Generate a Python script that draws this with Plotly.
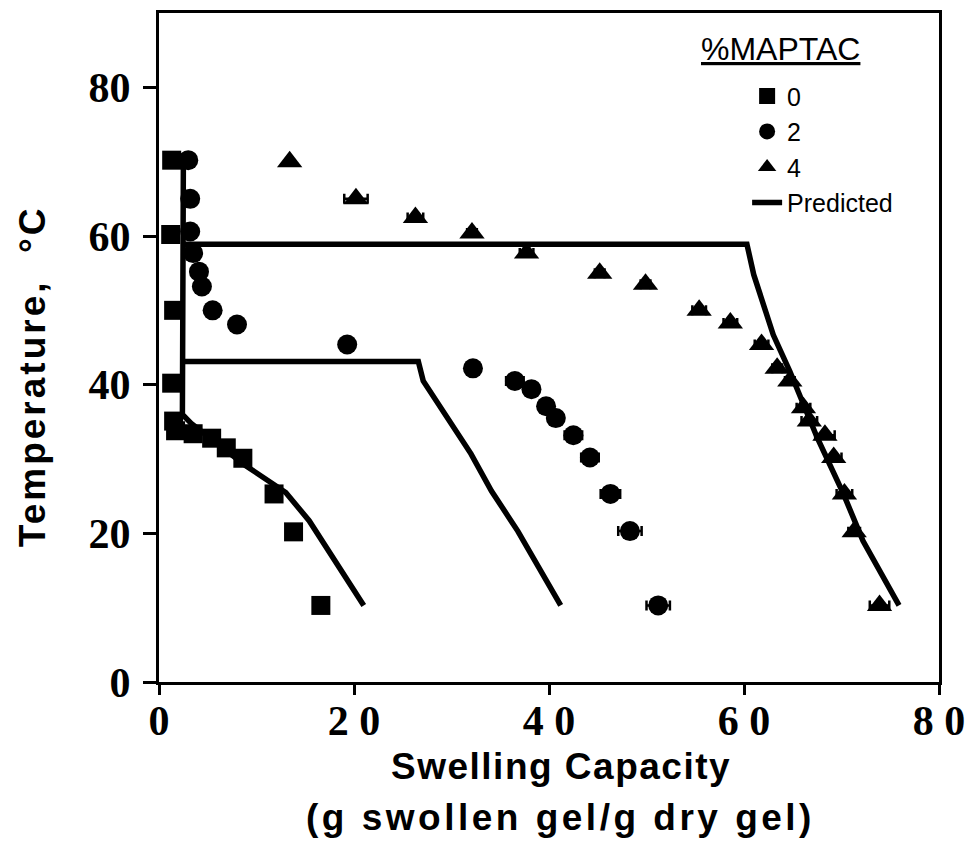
import plotly.graph_objects as go

# ---- data ----
sq_x = [1.3, 1.2, 1.5, 1.3, 1.5, 1.7, 3.5, 5.4, 6.9, 8.6, 11.8, 13.8, 16.6]
sq_y = [70.2, 60.2, 50.0, 40.2, 35.1, 33.8, 33.4, 32.8, 31.5, 30.1, 25.3, 20.2, 10.3]

ci_x = [3.0, 3.2, 3.2, 3.5, 4.1, 4.4, 5.5, 8.0, 19.3, 32.2, 36.5, 38.2, 39.7, 40.7, 42.5, 44.2, 46.3, 48.3, 51.2]
ci_y = [70.2, 65.0, 60.6, 57.7, 55.2, 53.2, 50.0, 48.1, 45.4, 42.2, 40.5, 39.4, 37.1, 35.5, 33.2, 30.2, 25.3, 20.3, 10.3]
ci_err = [0, 0, 0, 0, 0, 0, 0, 0, 0.4, 0.7, 0.9, 0.7, 0.6, 0.6, 0.9, 0.9, 1.0, 1.2, 1.2]

tr_x = [13.4, 20.2, 26.3, 32.1, 37.7, 45.2, 49.9, 55.4, 58.6, 61.8, 63.4, 64.7, 66.1, 66.7, 68.3, 69.2, 70.3, 71.3, 73.9]
tr_y = [70.0, 65.0, 62.5, 60.4, 57.7, 55.0, 53.5, 50.0, 48.3, 45.4, 42.2, 40.5, 36.9, 35.1, 33.2, 30.2, 25.3, 20.2, 10.3]
tr_err = [0.3, 1.2, 0.8, 0.5, 0.7, 0.5, 0.5, 0.7, 0.7, 0.7, 0.5, 0.5, 0.7, 0.8, 1.0, 0.8, 0.8, 0.6, 1.0]

pred0_x = [2.5, 2.4, 3.3, 5.5, 8.9, 13.0, 15.4, 21.0]
pred0_y = [70.2, 36.0, 34.8, 32.5, 29.1, 25.5, 21.7, 10.3]
pred2_x = [2.4, 26.6, 27.1, 32.0, 34.1, 36.8, 41.2]
pred2_y = [43.1, 43.1, 40.5, 30.7, 25.7, 20.3, 10.3]
pred4_x = [2.5, 60.3, 61.0, 63.0, 64.7, 67.5, 70.2, 72.2, 75.9]
pred4_y = [58.9, 58.9, 54.8, 46.7, 41.8, 32.9, 25.3, 19.0, 10.3]

x_ticks = [0, 20, 40, 60, 80]
x_ticktext = ["0", "2 0", "4 0", "6 0", "8 0"]
y_ticks = [0, 20, 40, 60, 80]

# ---- figure ----
pred_x = pred0_x + [None] + pred2_x + [None] + pred4_x
pred_y = pred0_y + [None] + pred2_y + [None] + pred4_y

fig = go.Figure()
fig.add_trace(go.Scatter(x=pred_x, y=pred_y, mode="lines", name="Predicted",
                         line=dict(color="black", width=5.5), legendrank=4))
fig.add_trace(go.Scatter(x=sq_x, y=sq_y, mode="markers", name="0", legendrank=1,
                         marker=dict(symbol="square", size=19, color="black")))
fig.add_trace(go.Scatter(x=ci_x, y=ci_y, mode="markers", name="2", legendrank=2,
                         marker=dict(symbol="circle", size=20, color="black"),
                         error_x=dict(type="data", array=ci_err, color="black", thickness=2.5, width=5)))
fig.add_trace(go.Scatter(x=tr_x, y=tr_y, mode="markers", name="4", legendrank=3,
                         marker=dict(symbol="triangle-up", size=22, color="black"),
                         error_x=dict(type="data", array=tr_err, color="black", thickness=2.5, width=5)))

tick_font = dict(family="Liberation Serif, Times New Roman, serif", size=42, color="black", weight="bold")
title_font = dict(family="Liberation Sans, Arial, sans-serif", size=37, color="black")

fig.update_xaxes(range=[0, 80], tickvals=x_ticks, ticktext=x_ticktext, tickfont=tick_font,
                 showline=True, linewidth=3, linecolor="black", mirror=True,
                 ticks="outside", ticklen=10, tickwidth=2.5, tickcolor="black",
                 showgrid=False, zeroline=False, ticklabelstandoff=-10)
fig.update_yaxes(range=[0, 90], tickvals=y_ticks, tickfont=tick_font,
                 showline=True, linewidth=3, linecolor="black", mirror=True,
                 ticks="outside", ticklen=13, tickwidth=2.5, tickcolor="black",
                 showgrid=False, zeroline=False, ticklabelstandoff=4)

fig.update_layout(
    width=975, height=854,
    margin=dict(l=159, r=32, t=10, b=172),
    paper_bgcolor="white", plot_bgcolor="white",
    font=dict(family="Liberation Sans, Arial, sans-serif", color="black"),
    legend=dict(x=0.754, y=0.91, xanchor="left", yanchor="top",
                font=dict(family="Liberation Sans, Arial, sans-serif", size=25, color="black"),
                bgcolor="rgba(0,0,0,0)", tracegroupgap=0),
    annotations=[
        dict(text="<u>%MAPTAC</u>", xref="paper", yref="paper", x=0.797, y=0.946,
             xanchor="center", yanchor="middle", showarrow=False,
             font=dict(family="Liberation Sans, Arial, sans-serif", size=32, color="black")),
        dict(text="<b><span style='letter-spacing:1.5px'>Swelling Capacity</span></b>",
             xref="paper", yref="paper", x=0.515, y=-0.126,
             xanchor="center", yanchor="middle", showarrow=False, font=title_font),
        dict(text="<b><span style='letter-spacing:3.5px'>(g swollen gel/g dry gel)</span></b>",
             xref="paper", yref="paper", x=0.515, y=-0.202,
             xanchor="center", yanchor="middle", showarrow=False, font=title_font),
        dict(text="<b><span style='letter-spacing:3px'>Temperature,  °C</span></b>",
             xref="paper", yref="paper", x=-0.162, y=0.4566,
             xanchor="center", yanchor="middle", showarrow=False, textangle=-90, font=title_font),
    ],
)

fig.write_html("out.html")
